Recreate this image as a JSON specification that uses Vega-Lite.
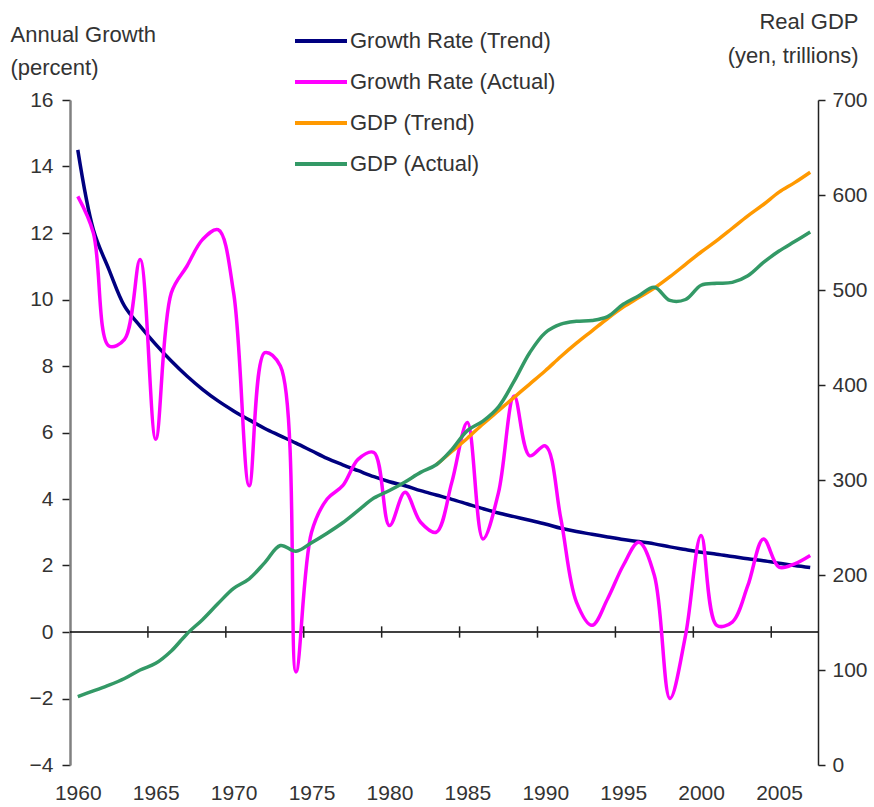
{
  "$schema": "https://vega.github.io/schema/vega-lite/v6.json",
  "width": 748,
  "height": 665,
  "autosize": {"type": "none"},
  "padding": {"left": 70, "top": 100, "right": 56, "bottom": 42},
  "background": "white",
  "config": {
    "view": {"stroke": null},
    "font": "Liberation Sans",
    "axis": {"grid": false, "labelFont": "Liberation Sans", "labelColor": "#333", "labelFontSize": 21, "titleFont": "Liberation Sans", "titleFontWeight": "normal", "titleColor": "#333", "titleFontSize": 22}
  },
  "datasets": {
    "ticks": [{"year": 1964.5}, {"year": 1969.5}, {"year": 1974.5}, {"year": 1979.5}, {"year": 1984.5}, {"year": 1989.5}, {"year": 1994.5}, {"year": 1999.5}, {"year": 2004.5}],
    "growth": [
      {"year":1960,"series":"Growth Rate (Trend)","value":14.5},{"year":1961,"series":"Growth Rate (Trend)","value":12.1},{"year":1962,"series":"Growth Rate (Trend)","value":10.9},{"year":1963,"series":"Growth Rate (Trend)","value":9.8},{"year":1964,"series":"Growth Rate (Trend)","value":9.2},{"year":1965,"series":"Growth Rate (Trend)","value":8.65},{"year":1966,"series":"Growth Rate (Trend)","value":8.15},{"year":1967,"series":"Growth Rate (Trend)","value":7.7},{"year":1968,"series":"Growth Rate (Trend)","value":7.3},{"year":1969,"series":"Growth Rate (Trend)","value":6.95},{"year":1970,"series":"Growth Rate (Trend)","value":6.65},{"year":1971,"series":"Growth Rate (Trend)","value":6.38},{"year":1972,"series":"Growth Rate (Trend)","value":6.12},{"year":1973,"series":"Growth Rate (Trend)","value":5.9},{"year":1974,"series":"Growth Rate (Trend)","value":5.68},{"year":1975,"series":"Growth Rate (Trend)","value":5.45},{"year":1976,"series":"Growth Rate (Trend)","value":5.22},{"year":1977,"series":"Growth Rate (Trend)","value":5.03},{"year":1978,"series":"Growth Rate (Trend)","value":4.85},{"year":1979,"series":"Growth Rate (Trend)","value":4.67},{"year":1980,"series":"Growth Rate (Trend)","value":4.52},{"year":1981,"series":"Growth Rate (Trend)","value":4.4},{"year":1982,"series":"Growth Rate (Trend)","value":4.25},{"year":1983,"series":"Growth Rate (Trend)","value":4.12},{"year":1984,"series":"Growth Rate (Trend)","value":3.99},{"year":1985,"series":"Growth Rate (Trend)","value":3.85},{"year":1986,"series":"Growth Rate (Trend)","value":3.71},{"year":1987,"series":"Growth Rate (Trend)","value":3.58},{"year":1988,"series":"Growth Rate (Trend)","value":3.47},{"year":1989,"series":"Growth Rate (Trend)","value":3.36},{"year":1990,"series":"Growth Rate (Trend)","value":3.25},{"year":1991,"series":"Growth Rate (Trend)","value":3.12},{"year":1992,"series":"Growth Rate (Trend)","value":3.02},{"year":1993,"series":"Growth Rate (Trend)","value":2.94},{"year":1994,"series":"Growth Rate (Trend)","value":2.86},{"year":1995,"series":"Growth Rate (Trend)","value":2.78},{"year":1996,"series":"Growth Rate (Trend)","value":2.72},{"year":1997,"series":"Growth Rate (Trend)","value":2.65},{"year":1998,"series":"Growth Rate (Trend)","value":2.56},{"year":1999,"series":"Growth Rate (Trend)","value":2.48},{"year":2000,"series":"Growth Rate (Trend)","value":2.4},{"year":2001,"series":"Growth Rate (Trend)","value":2.34},{"year":2002,"series":"Growth Rate (Trend)","value":2.27},{"year":2003,"series":"Growth Rate (Trend)","value":2.2},{"year":2004,"series":"Growth Rate (Trend)","value":2.14},{"year":2005,"series":"Growth Rate (Trend)","value":2.07},{"year":2006,"series":"Growth Rate (Trend)","value":2.0},{"year":2007,"series":"Growth Rate (Trend)","value":1.94},
      {"year":1960,"series":"Growth Rate (Actual)","value":13.1},{"year":1961,"series":"Growth Rate (Actual)","value":12.0},{"year":1962,"series":"Growth Rate (Actual)","value":8.6},{"year":1963,"series":"Growth Rate (Actual)","value":8.8},{"year":1964,"series":"Growth Rate (Actual)","value":11.2},{"year":1965,"series":"Growth Rate (Actual)","value":5.8},{"year":1966,"series":"Growth Rate (Actual)","value":10.2},{"year":1967,"series":"Growth Rate (Actual)","value":11.0},{"year":1968,"series":"Growth Rate (Actual)","value":11.8},{"year":1969,"series":"Growth Rate (Actual)","value":12.1},{"year":1970,"series":"Growth Rate (Actual)","value":10.2},{"year":1971,"series":"Growth Rate (Actual)","value":4.4},{"year":1972,"series":"Growth Rate (Actual)","value":8.4},{"year":1973,"series":"Growth Rate (Actual)","value":8.0},{"year":1974,"series":"Growth Rate (Actual)","value":-1.2},{"year":1975,"series":"Growth Rate (Actual)","value":3.0},{"year":1976,"series":"Growth Rate (Actual)","value":4.0},{"year":1977,"series":"Growth Rate (Actual)","value":4.4},{"year":1978,"series":"Growth Rate (Actual)","value":5.2},{"year":1979,"series":"Growth Rate (Actual)","value":5.4},{"year":1980,"series":"Growth Rate (Actual)","value":3.2},{"year":1981,"series":"Growth Rate (Actual)","value":4.2},{"year":1982,"series":"Growth Rate (Actual)","value":3.3},{"year":1983,"series":"Growth Rate (Actual)","value":3.0},{"year":1984,"series":"Growth Rate (Actual)","value":4.5},{"year":1985,"series":"Growth Rate (Actual)","value":6.3},{"year":1986,"series":"Growth Rate (Actual)","value":2.8},{"year":1987,"series":"Growth Rate (Actual)","value":4.2},{"year":1988,"series":"Growth Rate (Actual)","value":7.1},{"year":1989,"series":"Growth Rate (Actual)","value":5.3},{"year":1990,"series":"Growth Rate (Actual)","value":5.6},{"year":1991,"series":"Growth Rate (Actual)","value":3.4},{"year":1992,"series":"Growth Rate (Actual)","value":0.9},{"year":1993,"series":"Growth Rate (Actual)","value":0.2},{"year":1994,"series":"Growth Rate (Actual)","value":1.0},{"year":1995,"series":"Growth Rate (Actual)","value":2.0},{"year":1996,"series":"Growth Rate (Actual)","value":2.7},{"year":1997,"series":"Growth Rate (Actual)","value":1.7},{"year":1998,"series":"Growth Rate (Actual)","value":-2.0},{"year":1999,"series":"Growth Rate (Actual)","value":-0.1},{"year":2000,"series":"Growth Rate (Actual)","value":2.9},{"year":2001,"series":"Growth Rate (Actual)","value":0.2},{"year":2002,"series":"Growth Rate (Actual)","value":0.3},{"year":2003,"series":"Growth Rate (Actual)","value":1.4},{"year":2004,"series":"Growth Rate (Actual)","value":2.8},{"year":2005,"series":"Growth Rate (Actual)","value":1.95},{"year":2006,"series":"Growth Rate (Actual)","value":2.05},{"year":2007,"series":"Growth Rate (Actual)","value":2.3}
    ],
    "gdp": [
      {"year":1983,"series":"GDP (Trend)","value":316},{"year":1984,"series":"GDP (Trend)","value":330},{"year":1985,"series":"GDP (Trend)","value":344},{"year":1986,"series":"GDP (Trend)","value":359},{"year":1987,"series":"GDP (Trend)","value":373},{"year":1988,"series":"GDP (Trend)","value":387},{"year":1989,"series":"GDP (Trend)","value":401},{"year":1990,"series":"GDP (Trend)","value":415},{"year":1991,"series":"GDP (Trend)","value":430},{"year":1992,"series":"GDP (Trend)","value":444},{"year":1993,"series":"GDP (Trend)","value":457},{"year":1994,"series":"GDP (Trend)","value":470},{"year":1995,"series":"GDP (Trend)","value":482},{"year":1996,"series":"GDP (Trend)","value":492},{"year":1997,"series":"GDP (Trend)","value":502},{"year":1998,"series":"GDP (Trend)","value":514},{"year":1999,"series":"GDP (Trend)","value":527},{"year":2000,"series":"GDP (Trend)","value":540},{"year":2001,"series":"GDP (Trend)","value":552},{"year":2002,"series":"GDP (Trend)","value":565},{"year":2003,"series":"GDP (Trend)","value":578},{"year":2004,"series":"GDP (Trend)","value":590},{"year":2005,"series":"GDP (Trend)","value":603},{"year":2006,"series":"GDP (Trend)","value":613},{"year":2007,"series":"GDP (Trend)","value":624},
      {"year":1960,"series":"GDP (Actual)","value":72},{"year":1961,"series":"GDP (Actual)","value":78},{"year":1962,"series":"GDP (Actual)","value":84},{"year":1963,"series":"GDP (Actual)","value":91},{"year":1964,"series":"GDP (Actual)","value":100},{"year":1965,"series":"GDP (Actual)","value":107},{"year":1966,"series":"GDP (Actual)","value":120},{"year":1967,"series":"GDP (Actual)","value":138},{"year":1968,"series":"GDP (Actual)","value":153},{"year":1969,"series":"GDP (Actual)","value":170},{"year":1970,"series":"GDP (Actual)","value":186},{"year":1971,"series":"GDP (Actual)","value":196},{"year":1972,"series":"GDP (Actual)","value":213},{"year":1973,"series":"GDP (Actual)","value":231},{"year":1974,"series":"GDP (Actual)","value":225},{"year":1975,"series":"GDP (Actual)","value":234},{"year":1976,"series":"GDP (Actual)","value":244},{"year":1977,"series":"GDP (Actual)","value":255},{"year":1978,"series":"GDP (Actual)","value":268},{"year":1979,"series":"GDP (Actual)","value":281},{"year":1980,"series":"GDP (Actual)","value":289},{"year":1981,"series":"GDP (Actual)","value":298},{"year":1982,"series":"GDP (Actual)","value":308},{"year":1983,"series":"GDP (Actual)","value":316},{"year":1984,"series":"GDP (Actual)","value":332},{"year":1985,"series":"GDP (Actual)","value":352},{"year":1986,"series":"GDP (Actual)","value":362},{"year":1987,"series":"GDP (Actual)","value":377},{"year":1988,"series":"GDP (Actual)","value":404},{"year":1989,"series":"GDP (Actual)","value":434},{"year":1990,"series":"GDP (Actual)","value":455},{"year":1991,"series":"GDP (Actual)","value":464},{"year":1992,"series":"GDP (Actual)","value":467},{"year":1993,"series":"GDP (Actual)","value":468},{"year":1994,"series":"GDP (Actual)","value":472},{"year":1995,"series":"GDP (Actual)","value":485},{"year":1996,"series":"GDP (Actual)","value":494},{"year":1997,"series":"GDP (Actual)","value":503},{"year":1998,"series":"GDP (Actual)","value":489},{"year":1999,"series":"GDP (Actual)","value":490},{"year":2000,"series":"GDP (Actual)","value":505},{"year":2001,"series":"GDP (Actual)","value":507},{"year":2002,"series":"GDP (Actual)","value":508},{"year":2003,"series":"GDP (Actual)","value":515},{"year":2004,"series":"GDP (Actual)","value":529},{"year":2005,"series":"GDP (Actual)","value":541},{"year":2006,"series":"GDP (Actual)","value":551},{"year":2007,"series":"GDP (Actual)","value":561}
    ]
  },
  "layer": [
    {
      "layer": [
        {
          "data": {"values": [{}]},
          "mark": {"type": "rule", "color": "#000000", "strokeWidth": 1.5},
          "encoding": {"y": {"datum": 0, "type": "quantitative"}}
        },
        {
          "data": {"name": "ticks"},
          "mark": {"type": "rule", "color": "#222222", "strokeWidth": 1.5},
          "encoding": {
            "x": {"field": "year", "type": "quantitative"},
            "y": {"datum": -0.17, "type": "quantitative"},
            "y2": {"datum": 0.17}
          }
        },
        {
          "data": {"name": "growth"},
          "mark": {"type": "line", "interpolate": "catmull-rom", "strokeWidth": 3.5},
          "encoding": {
            "x": {"field": "year", "type": "quantitative", "scale": {"domain": [1959.5, 2007.5], "nice": false, "zero": false}, "axis": {"values": [1960,1965,1970,1975,1980,1985,1990,1995,2000,2005], "format": "d", "domain": false, "ticks": false, "labelPadding": 17, "title": null}},
            "y": {"field": "value", "type": "quantitative", "scale": {"domain": [-4, 16], "nice": false, "zero": false}, "axis": {"values": [-4,-2,0,2,4,6,8,10,12,14,16], "title": ["Annual Growth", "(percent)"], "titleAngle": 0, "titleAlign": "left", "titleBaseline": "top", "titleX": -60, "titleY": -76, "titleLineHeight": 33, "domainColor": "#808080", "domainWidth": 2.5, "tickColor": "#222222", "tickWidth": 1.5, "tickSize": 8, "labelPadding": 9}},
            "color": {"field": "series", "type": "nominal", "scale": {"domain": ["Growth Rate (Trend)", "Growth Rate (Actual)", "GDP (Trend)", "GDP (Actual)"], "range": ["#000080", "#FF00FF", "#FF9900", "#339966"]}, "legend": {"orient": "none", "legendX": 223, "legendY": -70, "title": null, "symbolType": "stroke", "symbolSize": 2704, "symbolStrokeWidth": 4, "labelFontSize": 22, "labelFont": "Liberation Sans", "labelColor": "#333", "labelOffset": 1, "labelLimit": 400, "rowPadding": 19, "clipHeight": 22, "padding": 0}}
          }
        }
      ]
    },
    {
      "data": {"name": "gdp"},
      "mark": {"type": "line", "interpolate": "catmull-rom", "strokeWidth": 3.5},
      "encoding": {
        "x": {"field": "year", "type": "quantitative"},
        "y": {"field": "value", "type": "quantitative", "scale": {"domain": [0, 700], "nice": false}, "axis": {"orient": "right", "values": [0,100,200,300,400,500,600,700], "title": ["Real GDP", "(yen, trillions)"], "titleAngle": 0, "titleAlign": "right", "titleBaseline": "top", "titleX": 40, "titleY": -89, "titleLineHeight": 34, "domainColor": "#222222", "domainWidth": 1.5, "tickColor": "#222222", "tickWidth": 1.5, "tickSize": 7, "labelPadding": 7}},
        "color": {"field": "series", "type": "nominal"}
      }
    }
  ],
  "resolve": {"scale": {"y": "independent"}}
}
